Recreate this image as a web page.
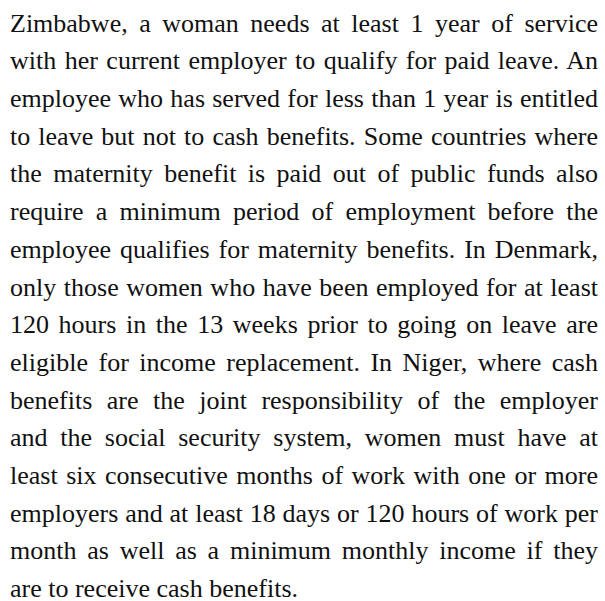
<!DOCTYPE html>
<html>
<head>
<meta charset="utf-8">
<script src="https://cdn.jsdelivr.net/npm/chart.js@4"></script>
<style>
    html, body { margin: 0; padding: 0; background: #fff; }
    body { width: 605px; height: 601px; overflow: hidden; position: relative; }
    #text {
        position: absolute;
        left: 10px;
        top: 4.7px;
        width: 588px;
        font-family: "Liberation Serif", "DejaVu Serif", serif;
        font-size: 26px;
        color: #111;
    }
    .ln {
        height: 37.7px;
        line-height: 37.7px;
        white-space: nowrap;
        text-align: justify;
        text-align-last: justify;
    }
    .ln.last { text-align-last: left; }
</style>
</head>
<body>
<div id="text"></div>
<script>
// the picture holds only a paragraph, no chart marks
const lines = [
    'Zimbabwe, a woman needs at least 1 year of service',
    'with her current employer to qualify for paid leave. An',
    'employee who has served for less than 1 year is entitled',
    'to leave but not to cash benefits. Some countries where',
    'the maternity benefit is paid out of public funds also',
    'require a minimum period of employment before the',
    'employee qualifies for maternity benefits. In Denmark,',
    'only those women who have been employed for at least',
    '120 hours in the 13 weeks prior to going on leave are',
    'eligible for income replacement. In Niger, where cash',
    'benefits are the joint responsibility of the employer',
    'and the social security system, women must have at',
    'least six consecutive months of work with one or more',
    'employers and at least 18 days or 120 hours of work per',
    'month as well as a minimum monthly income if they',
    'are to receive cash benefits.'
];

document.addEventListener("DOMContentLoaded", () => {
    const box = document.getElementById('text');
    lines.forEach((t, i) => {
        const d = document.createElement('div');
        d.className = 'ln' + (i === lines.length - 1 ? ' last' : '');
        d.textContent = t;
        box.appendChild(d);
        // squeeze letters a bit if the line is too long
        let ls = 0;
        while (d.scrollWidth > d.clientWidth && ls > -2) {
            ls -= 0.1;
            d.style.letterSpacing = ls + 'px';
        }
    });
});
</script>
</body>
</html>
